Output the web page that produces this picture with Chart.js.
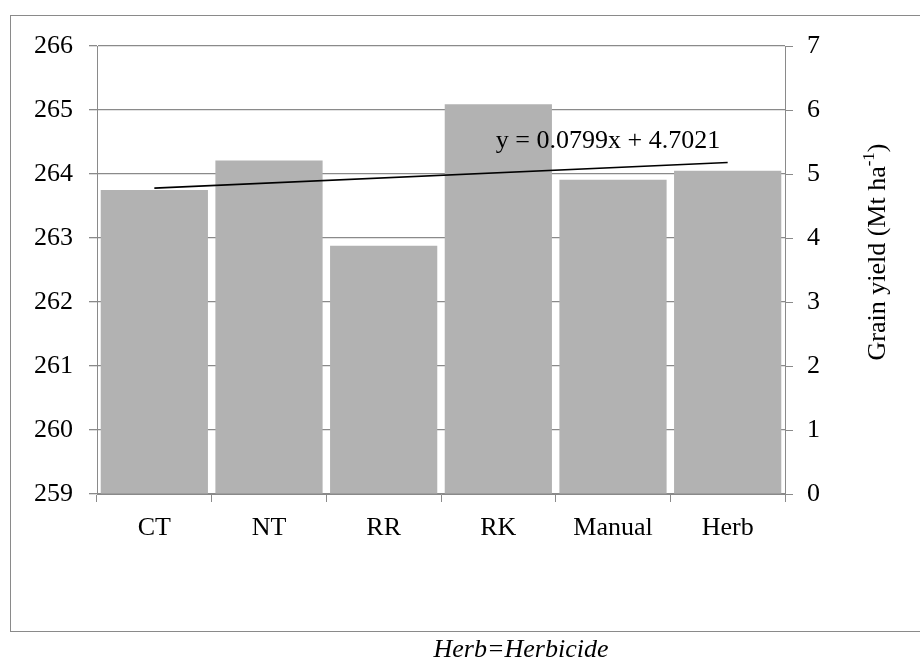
<!DOCTYPE html>
<html lang="en">
<head>
  <meta charset="UTF-8" />
  <title>Grain yield by treatment</title>
  <script src="https://cdn.jsdelivr.net/npm/chart.js"></script>
  <style>
    html, body {
      margin: 0;
      padding: 0;
      background: #fff;
    }
    #wrap {
      position: relative;
      width: 920px;
      height: 659px;
    }
  </style>
</head>
<body>
  <div id="wrap">
    <canvas id="yieldChart" width="920" height="659"></canvas>
  </div>

  <script>
    const treatments = ["CT", "NT", "RR", "RK", "Manual", "Herb"];
    const grainYield = [4.75, 5.21, 3.88, 6.09, 4.91, 5.05];
    // linear trend as drawn: ends, straight between them
    const trendLine = [4.78, null, null, null, null, 5.18];
    const trendText = "y = 0.0799x + 4.7021";
    const leftTicks = [259, 260, 261, 262, 263, 264, 265, 266];
    const rightTicks = [0, 1, 2, 3, 4, 5, 6, 7];
    const yTitle = "Grain yield (Mt ha";
    const yTitleSup = "-1";
    const footNote = "Herb=Herbicide";

    const serif = "'Liberation Serif', 'Times New Roman', serif";
    const gridGray = "#8a8a8a";

    const extras = {
      id: "extras",
      beforeDraw(chart) {
        const ctx = chart.ctx;
        ctx.save();
        ctx.strokeStyle = gridGray;
        ctx.lineWidth = 1;
        ctx.strokeRect(10.5, 15.5, 930, 616);
        ctx.restore();
      },
      afterDraw(chart) {
        const ctx = chart.ctx;
        const x = chart.scales.x;
        const y1 = chart.scales.y1;
        ctx.save();
        ctx.fillStyle = "#000";

        // trend equation
        ctx.font = "26px " + serif;
        ctx.textAlign = "center";
        ctx.textBaseline = "alphabetic";
        ctx.fillText(trendText, x.getPixelForValue(4) - 5, y1.getPixelForValue(5.41));

        // right axis title, reads bottom to top
        ctx.translate(878, 252);
        ctx.rotate(-Math.PI / 2);
        ctx.textBaseline = "middle";
        ctx.textAlign = "left";
        const mainW = ctx.measureText(yTitle).width;
        ctx.font = "17px " + serif;
        const supW = ctx.measureText(yTitleSup).width;
        ctx.font = "26px " + serif;
        const closeW = ctx.measureText(")").width;
        let tx = -(mainW + supW + closeW) / 2;
        ctx.fillText(yTitle, tx, 0);
        tx += mainW;
        ctx.font = "17px " + serif;
        ctx.fillText(yTitleSup, tx, -8);
        tx += supW;
        ctx.font = "26px " + serif;
        ctx.fillText(")", tx, 0);
        ctx.restore();

        // footnote under the frame
        ctx.save();
        ctx.fillStyle = "#000";
        ctx.font = "italic 26px " + serif;
        ctx.textAlign = "center";
        ctx.textBaseline = "alphabetic";
        ctx.fillText(footNote, 521, 657);
        ctx.restore();
      }
    };

    const ctx = document.getElementById("yieldChart").getContext("2d");

    new Chart(ctx, {
      data: {
        labels: treatments,
        datasets: [
          {
            type: "line",
            data: trendLine,
            yAxisID: "y1",
            borderColor: "#000",
            borderWidth: 1.6,
            pointRadius: 0,
            spanGaps: true,
            fill: false,
            order: 0
          },
          {
            type: "bar",
            data: grainYield,
            yAxisID: "y1",
            backgroundColor: "#b2b2b2",
            borderWidth: 0,
            barPercentage: 0.935,
            categoryPercentage: 1,
            order: 1
          }
        ]
      },
      options: {
        responsive: false,
        animation: false,
        layout: {
          padding: { top: 46, left: 0, right: 0, bottom: 0 }
        },
        plugins: {
          legend: { display: false },
          tooltip: { enabled: false }
        },
        scales: {
          x: {
            offset: true,
            afterFit: s => { s.height = 165; },
            grid: {
              offset: true,
              drawOnChartArea: false,
              drawTicks: true,
              tickLength: 8,
              color: gridGray
            },
            border: { color: gridGray, width: 1 },
            ticks: {
              color: "#000",
              padding: 11,
              font: { family: serif, size: 26 }
            }
          },
          y: {
            position: "left",
            min: 259,
            max: 266,
            afterFit: s => { s.width = 97; },
            afterBuildTicks: s => { s.ticks = leftTicks.map(v => ({ value: v })); },
            grid: {
              color: gridGray,
              tickLength: 8,
              lineWidth: 1.3
            },
            border: { color: gridGray, width: 1 },
            ticks: {
              color: "#000",
              padding: 16,
              font: { family: serif, size: 26 }
            }
          },
          y1: {
            position: "right",
            min: 0,
            max: 7,
            afterFit: s => { s.width = 135; },
            afterBuildTicks: s => { s.ticks = rightTicks.map(v => ({ value: v })); },
            grid: {
              drawOnChartArea: false,
              color: gridGray,
              tickLength: 8
            },
            border: { color: gridGray, width: 1 },
            ticks: {
              color: "#000",
              padding: 14,
              font: { family: serif, size: 26 }
            }
          }
        }
      },
      plugins: [extras]
    });
  </script>
</body>
</html>
